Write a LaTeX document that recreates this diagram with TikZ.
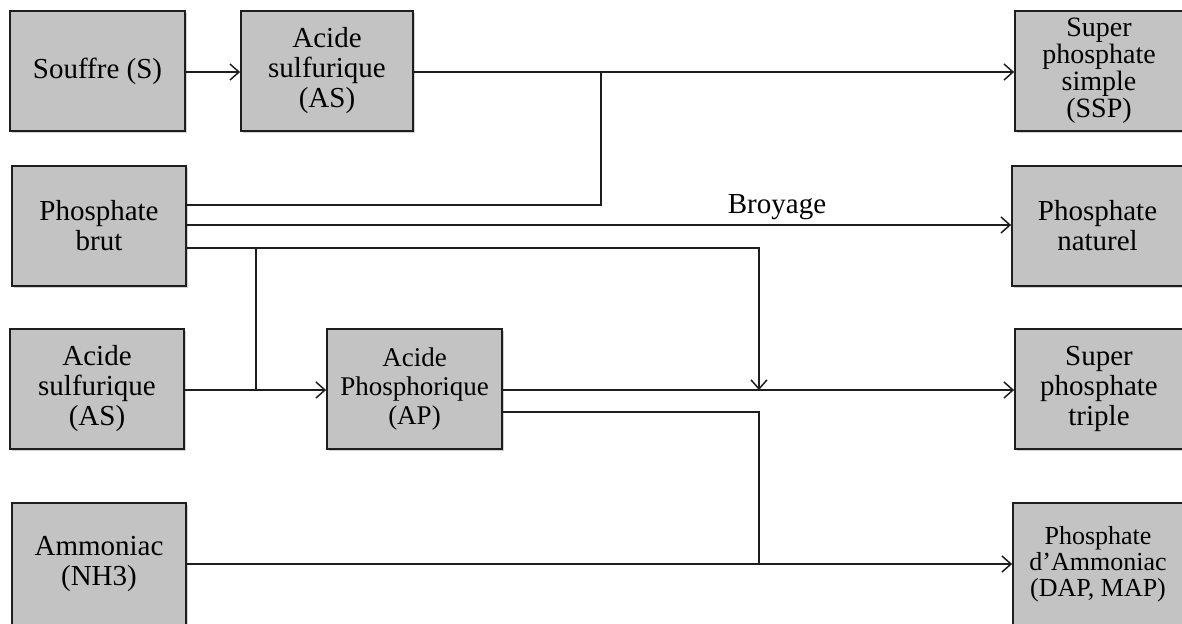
\documentclass[tikz,border=0pt]{standalone}
\usepackage{fontspec}
\setmainfont{Liberation Serif}
\usetikzlibrary{arrows.meta,shadows}
\definecolor{boxgray}{RGB}{195,195,195}
\definecolor{linegray}{RGB}{30,30,30}
\begin{document}
\begin{tikzpicture}[x=0.5pt,y=-0.5pt,
  box/.style={draw=linegray, line width=0.9pt, fill=boxgray,
    minimum width=#1, minimum height=60pt, inner sep=0pt, align=center,
    font=\fontsize{14.5}{15}\selectfont,
    drop shadow={shadow xshift=1.2pt,shadow yshift=-1.2pt,opacity=0.3,fill=black!60}},
  conn/.style={line width=0.75pt, draw=linegray},
  arr/.style={conn, -{Straight Barb[length=4.5pt,width=8pt,line width=0.75pt]}},
  lbl/.style={font=\fontsize{14.5}{15}\selectfont, inner sep=0pt}]
\useasboundingbox (0,0) rectangle (1182,623);
\clip (0,0) rectangle (1182,623);
% boxes
\node[box=87.5pt] (souf) at (97.5,71) {Souffre (S)};
\node[box=86pt] (as1) at (327,71) {Acide\\sulfurique\\(AS)};
\node[box=84pt, font=\fontsize{14}{13.5}\selectfont] (ssp) at (1099,71) {Super\\phosphate\\simple\\(SSP)};
\node[box=87pt] (brut) at (99,226) {Phosphate\\brut};
\node[box=85.5pt] (nat) at (1097.5,226) {Phosphate\\naturel};
\node[box=87pt] (as2) at (97,389) {Acide\\sulfurique\\(AS)};
\node[box=87.5pt, font=\fontsize{13.5}{14.5}\selectfont] (ap) at (414.5,389) {Acide\\Phosphorique\\(AP)};
\node[box=84pt] (spt) at (1099,389) {Super\\phosphate\\triple};
\node[box=87pt, minimum height=61pt] (amm) at (99,564) {Ammoniac\\(NH3)};
\node[box=85pt, minimum height=61pt, font=\fontsize{13}{13}\selectfont] (dap) at (1098,564) {Phosphate\\d’Ammoniac\\(DAP, MAP)};
% level coordinates
\coordinate (y72) at (0,72);
\coordinate (y205) at (0,205);
\coordinate (y225) at (0,225);
\coordinate (y248) at (0,248);
\coordinate (y390) at (0,390);
\coordinate (y412) at (0,412);
\coordinate (y564) at (0,564);
\coordinate (j1) at (601,72);
\coordinate (j2) at (759,390);
\coordinate (j3) at (256,390);
\coordinate (j4) at (759,564);
\coordinate (t1) at (256,248);
% connectors
\draw[arr] (souf.east |- y72) -- (as1.west |- y72);
\draw[arr] (as1.east |- y72) -- (ssp.west |- y72);
\draw[conn] (brut.east |- y205) -| (j1);
\draw[arr] (brut.east |- y225) -- node[lbl, above=2.5pt, xshift=89pt] (broy) {Broyage} (nat.west |- y225);
\draw[arr] (brut.east |- y248) -| (j2);
\draw[conn] (t1) -- (j3);
\draw[arr] (as2.east |- y390) -- (ap.west |- y390);
\draw[arr] (ap.east |- y390) -- (spt.west |- y390);
\draw[conn] (ap.east |- y412) -| (j4);
\draw[arr] (amm.east |- y564) -- (dap.west |- y564);
\end{tikzpicture}
\end{document}
